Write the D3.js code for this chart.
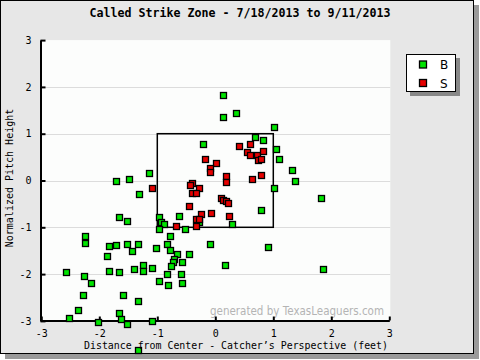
<!DOCTYPE html>
<html><head><meta charset="utf-8">
<script src="https://cdn.jsdelivr.net/npm/d3@7"></script>
<style>html,body{margin:0;padding:0;background:#fff;}svg{display:block;}</style>
</head><body>
<script>
const title = "Called Strike Zone - 7/18/2013 to 9/11/2013";
const xLabel = "Distance from Center - Catcher\u2019s Perspective (feet)";
const yLabel = "Normalized Pitch Height";
const xTicks = [-3, -2, -1, 0, 1, 2, 3];
const yTicks = [-3, -2, -1, 0, 1, 2, 3];
const seriesNames = ["B", "S"];
const seriesColors = ["#00e400", "#e60000"];
const zone = {x0: -1, x1: 1, y0: -1, y1: 1};
// Balls [x, y]
const balls = [
[0.14,1.82],[0.14,1.35],[0.36,1.44],[1.02,1.14],[0.69,0.94],[0.83,0.86],[-0.21,0.79],[1.05,0.67],
[1.09,0.45],[1.02,-0.15],[-1.14,0.15],[-0.62,-0.76],[0.79,-0.64],[0.28,-0.94],[-0.28,-0.89],[-0.53,-1.04],
[-0.78,-1.19],[-0.97,-0.79],[-0.93,-0.89],[-0.88,-0.94],[-0.97,-1.04],[-1.71,-0.02],[-1.48,0.03],[-1.31,-0.29],
[-1.66,-0.79],[-1.52,-0.87],[-2.24,-1.19],[-2.24,-1.34],[-1.84,-1.41],[-1.71,-1.38],[-1.52,-1.36],[-1.34,-1.36],
[-1.02,-1.45],[-0.84,-1.36],[-0.78,-1.49],[-1.43,-1.51],[-1.86,-1.62],[-1.24,-1.81],[-1.24,-1.94],[-1.41,-1.90],
[-1.09,-1.88],[-0.66,-1.58],[-0.45,-1.58],[-0.72,-1.68],[-0.73,-1.74],[-0.57,-1.75],[-0.76,-1.83],[-2.57,-1.96],
[-2.26,-2.03],[-1.84,-1.94],[-1.66,-1.96],[-2.14,-2.18],[-0.83,-2.00],[-0.60,-2.00],[-0.97,-2.15],[-0.81,-2.24],
[-0.57,-2.18],[-2.28,-2.45],[-1.60,-2.45],[-1.34,-2.58],[-2.36,-2.77],[-1.66,-2.84],[-2.52,-2.94],[-1.62,-2.97],
[-2.02,-3.03],[-1.53,-3.07],[-1.10,-3.01],[-1.34,-3.62],[-0.09,-1.36],[0.91,-1.43],[0.16,-1.81],[1.86,-1.90],
[1.33,0.22],[1.38,-0.02],[1.83,-0.38]
];
// Called strikes [x, y]
const strikes = [
[0.41,0.73],[0.60,0.77],[0.55,0.60],[0.59,0.54],[0.72,0.54],[0.83,0.62],[0.74,0.44],[0.78,0.45],
[-0.17,0.47],[0.02,0.37],[-0.10,0.26],[-0.10,0.18],[0.19,0.09],[0.19,-0.04],[0.64,0.03],[0.79,0.11],
[-1.09,-0.17],[-0.41,-0.06],[-0.43,-0.10],[-0.28,-0.15],[-0.41,-0.27],[-0.33,-0.27],[0.09,-0.38],[0.14,-0.42],
[0.18,-0.44],[0.22,-0.49],[-0.45,-0.55],[-0.24,-0.72],[-0.07,-0.70],[0.24,-0.76],[-0.34,-0.83],[-0.28,-0.83],
[-0.33,-0.98],[-0.67,-0.98]
];

const W = 480, H = 360;
const svg = d3.select("body").append("svg").attr("width", W).attr("height", H);
const mono = "'DejaVu Sans Mono', 'Liberation Mono', monospace";

// frame with shadow
svg.append("rect").attr("x", 5).attr("y", 5).attr("width", 474).attr("height", 354).attr("fill", "#9a9a9a");
svg.append("rect").attr("x", 0.5).attr("y", 0.5).attr("width", 473).attr("height", 353)
  .attr("fill", "#e7e7e7").attr("stroke", "#000");

const x = d3.scaleLinear().domain([-3, 3]).range([41.3, 389.3]);
const y = d3.scaleLinear().domain([-3, 3]).range([320.9, 40.1]);

// plot background
svg.append("rect").attr("x", x(-3)).attr("y", y(3)).attr("width", x(3) - x(-3) + 1).attr("height", y(-3) - y(3))
  .attr("fill", "#fcfdfc");

// horizontal grid
svg.append("g").selectAll("line").data(yTicks.filter(t => t > -3 && t < 3)).join("line")
  .attr("x1", x(-3)).attr("x2", x(3) + 1)
  .attr("y1", d => Math.round(y(d)) + 0.5).attr("y2", d => Math.round(y(d)) + 0.5)
  .attr("stroke", "#dcdcdc").attr("stroke-width", 1);

// watermark
svg.append("text").attr("x", 384).attr("y", 315).attr("text-anchor", "end")
  .attr("font-family", "'DejaVu Sans', Verdana, sans-serif").attr("font-size", 13)
  .attr("fill", "#b4b4b4").attr("textLength", 174).attr("lengthAdjust", "spacingAndGlyphs")
  .text("generated by TexasLeaguers.com");

// axes
const xAxis = d3.axisBottom(x).tickValues(xTicks).tickSizeInner(-4).tickSizeOuter(0).tickPadding(9)
  .tickFormat(d => String(d));
const gx = svg.append("g").attr("transform", `translate(0,${Math.round(y(-3)) - 0.5})`).call(xAxis);
const yAxis = d3.axisLeft(y).tickValues(yTicks).tickSizeInner(-5).tickSizeOuter(0).tickPadding(9)
  .tickFormat(d => String(d));
const gy = svg.append("g").attr("transform", `translate(${Math.round(x(-3)) - 0.5},0)`).call(yAxis);
[gx, gy].forEach(g => {
  g.select(".domain").attr("stroke", "#000").attr("stroke-width", 2);
  g.selectAll(".tick line").attr("stroke", "#000").attr("stroke-width", 2);
  g.selectAll("text").attr("font-family", mono).attr("font-size", 10).attr("fill", "#000");
});

// strike zone
svg.append("rect").attr("x", x(zone.x0)).attr("y", y(zone.y1))
  .attr("width", x(zone.x1) - x(zone.x0)).attr("height", y(zone.y0) - y(zone.y1))
  .attr("fill", "none").attr("stroke", "#000").attr("stroke-width", 1.5);

// points
const s = 6;
function drawPts(data, color) {
  svg.append("g").selectAll("rect").data(data).join("rect")
    .attr("x", d => Math.round(x(d[0])) - s / 2 + 0.5)
    .attr("y", d => Math.round(y(d[1])) - s / 2 + 0.5)
    .attr("width", s).attr("height", s)
    .attr("fill", color).attr("stroke", "#000").attr("stroke-width", 1.3);
}
drawPts(balls, seriesColors[0]);
drawPts(strikes, seriesColors[1]);

// title
svg.append("text").attr("x", 240).attr("y", 17).attr("text-anchor", "middle")
  .attr("font-family", mono).attr("font-size", 11.5).attr("font-weight", "bold")
  .attr("textLength", 301).attr("lengthAdjust", "spacingAndGlyphs").text(title);

// axis labels
svg.append("text").attr("x", 84).attr("y", 349)
  .attr("font-family", mono).attr("font-size", 10)
  .attr("textLength", 304).attr("lengthAdjust", "spacingAndGlyphs").text(xLabel);
svg.append("text").attr("transform", "translate(13,178) rotate(-90)").attr("text-anchor", "middle")
  .attr("font-family", mono).attr("font-size", 10).text(yLabel);

// legend
const lg = svg.append("g");
lg.append("rect").attr("x", 410).attr("y", 58).attr("width", 50).attr("height", 38).attr("fill", "#888");
lg.append("rect").attr("x", 406.5).attr("y", 54.5).attr("width", 49).attr("height", 37)
  .attr("fill", "#fff").attr("stroke", "#000");
seriesNames.forEach((n, i) => {
  const cy = 64.5 + i * 18.5;
  lg.append("rect").attr("x", 419.5).attr("y", cy - 3.5).attr("width", 7).attr("height", 7)
    .attr("fill", seriesColors[i]).attr("stroke", "#000").attr("stroke-width", 1.3);
  lg.append("text").attr("x", 440).attr("y", cy + 4.5)
    .attr("font-family", "'DejaVu Sans', sans-serif").attr("font-size", 12).text(n);
});
</script>
</body></html>
